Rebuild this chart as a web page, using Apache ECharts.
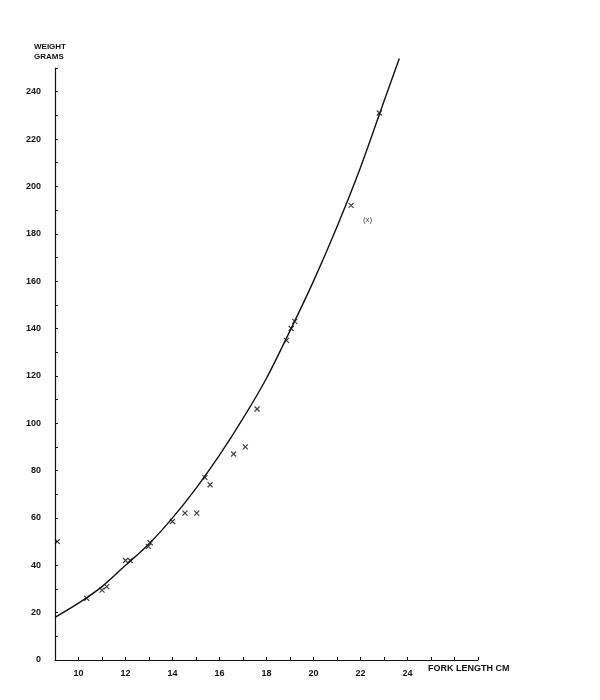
<!DOCTYPE html>
<html>
<head>
<meta charset="utf-8">
<script src="https://cdn.jsdelivr.net/npm/echarts@6/dist/echarts.min.js"></script>
<style>html,body{margin:0;padding:0;background:#fff}#c{width:600px;height:700px}</style>
</head>
<body>
<div id="c"></div>
<script>
// Fitted curve: fork length (cm), weight (g)
var curveLength = [9, 10, 11, 12, 13, 14, 15, 16, 17, 18, 19, 20, 21, 22, 23, 23.65];
var curveWeight = [18, 24, 31, 40, 49, 60, 72.5, 86.5, 102, 119, 139, 160, 183, 208, 236, 254];
// Observed points
var obsLength = [9.1, 10.35, 11.0, 11.2, 12.0, 12.2, 12.97, 13.05, 14.0, 14.53, 15.03, 15.38, 15.6, 16.6, 17.1, 17.6, 18.85, 19.05, 19.2, 21.6, 22.8];
var obsWeight = [50, 26, 29.5, 31, 42, 42, 48, 49.5, 58.5, 62, 62, 77, 74, 87, 90, 106, 135, 140, 143, 192, 231];
// Bracketed (excluded) point
var exclLength = [22.3];
var exclWeight = [186];
var xTickLabels = [10, 12, 14, 16, 18, 20, 22, 24];
var yTickLabels = [0, 20, 40, 60, 80, 100, 120, 140, 160, 180, 200, 220, 240];

var chart = echarts.init(document.getElementById('c'));
var lbl = {color: '#111', fontSize: 9, fontWeight: 'bold', fontFamily: 'Liberation Sans'};
chart.setOption({
  backgroundColor: '#fff',
  animation: false,
  grid: {left: 55, right: 122, top: 68, bottom: 40},
  xAxis: {
    type: 'value', min: 9, max: 27, interval: 1,
    axisLine: {onZero: false, lineStyle: {color: '#111', width: 1.2}},
    axisTick: {length: 3, inside: true, lineStyle: {color: '#111'}},
    splitLine: {show: false},
    axisLabel: Object.assign({}, lbl, {margin: 9, formatter: function (v) {
      return xTickLabels.indexOf(v) >= 0 ? String(v) : '';
    }})
  },
  yAxis: {
    type: 'value', min: 0, max: 250, interval: 10,
    axisLine: {show: true, onZero: false, lineStyle: {color: '#111', width: 1.2}},
    axisTick: {length: 3, inside: true, lineStyle: {color: '#111'}},
    splitLine: {show: false},
    axisLabel: Object.assign({}, lbl, {margin: 14, formatter: function (v) {
      return yTickLabels.indexOf(v) >= 0 ? String(v) : '';
    }})
  },
  graphic: [
    {type: 'text', left: 34, top: 42, style: {text: 'WEIGHT\nGRAMS', fill: '#111', font: 'bold 8px Liberation Sans', lineHeight: 10, align: 'left'}},
    {type: 'text', left: 428, top: 664, style: {text: 'FORK LENGTH CM', fill: '#111', font: 'bold 9px Liberation Sans'}}
  ],
  series: [
    {
      type: 'line', data: curveLength.map(function (l, i) { return [l, curveWeight[i]]; }),
      smooth: 0.3, showSymbol: false, clip: false,
      lineStyle: {color: '#111', width: 1.4}
    },
    {
      type: 'scatter', data: obsLength.map(function (l, i) { return [l, obsWeight[i]]; }),
      symbol: 'path://M0,0L10,10M10,0L0,10', symbolSize: 5,
      itemStyle: {color: 'none', borderColor: '#111', borderWidth: 1.2}
    },
    {
      type: 'scatter', data: exclLength.map(function (l, i) { return [l, exclWeight[i]]; }),
      symbol: 'circle', symbolSize: 2,
      itemStyle: {color: 'rgba(0,0,0,0)'},
      label: {show: true, position: 'inside', formatter: '(x)', color: '#111', fontSize: 8, fontFamily: 'Liberation Sans'}
    }
  ]
});
</script>
</body>
</html>
